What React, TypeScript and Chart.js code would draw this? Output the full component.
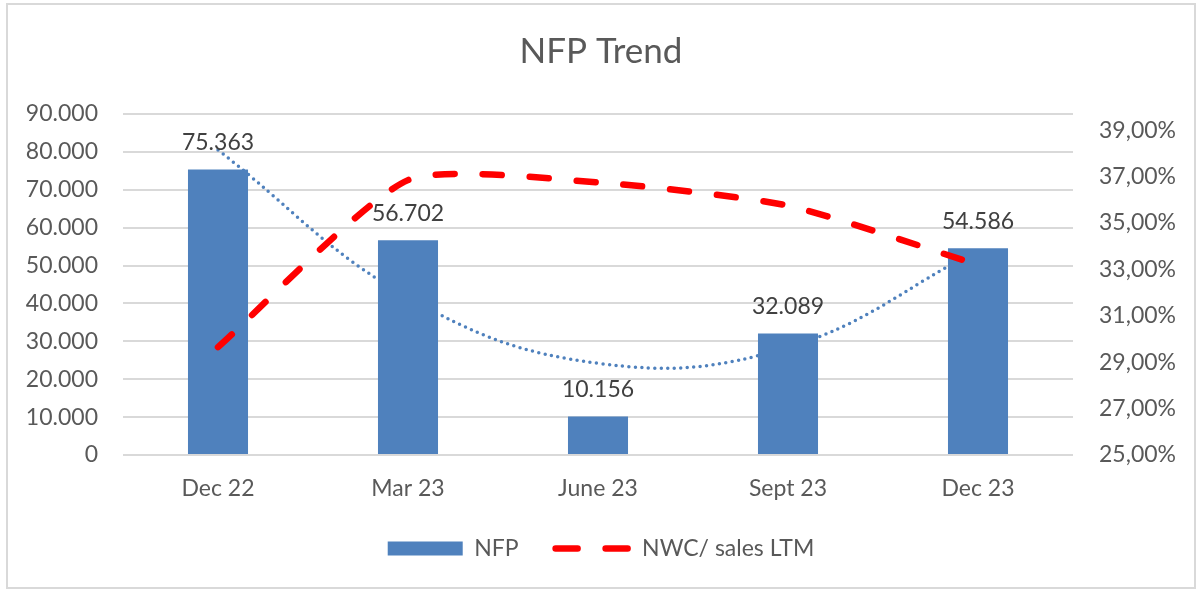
import React, { useEffect, useRef } from 'react';
import { Chart, registerables } from 'chart.js';

Chart.register(...registerables);

// ---- data ----
const categories = ['Dec 22', 'Mar 23', 'June 23', 'Sept 23', 'Dec 23'];
const nfpValues = [75363, 56702, 10156, 32089, 54586];
const nwcSalesPct = [29.65, 36.85, 36.75, 35.75, 33.2];
const nfpTrendValues = [80500, 41600, 24200, 28400, 54100];
const leftTickValues = [0, 10000, 20000, 30000, 40000, 50000, 60000, 70000, 80000, 90000];
const rightTickValues = [25, 27, 29, 31, 33, 35, 37, 39];

const TEXT = '#595959';
const BLUE = '#4F81BD';
const RED = '#FF0000';
const FONT = 'Lato';

const fmtThousands = (n: number) =>
  Math.round(n).toString().replace(/\B(?=(\d{3})+(?!\d))/g, '.');
const fmtPct = (n: number) => n.toFixed(2).replace('.', ',') + '%';

const framePlugin = {
  id: 'frame',
  beforeDraw(chart: any) {
    const { ctx, width, height } = chart;
    ctx.save();
    ctx.fillStyle = '#ffffff';
    ctx.fillRect(0, 0, width, height);
    ctx.strokeStyle = '#d9d9d9';
    ctx.lineWidth = 2;
    ctx.strokeRect(7, 4, 1188, 584);
    ctx.restore();
  },
};

const barLabelPlugin = {
  id: 'barLabels',
  afterDatasetsDraw(chart: any) {
    const { ctx } = chart;
    const meta = chart.getDatasetMeta(0);
    ctx.save();
    ctx.font = `23px ${FONT}`;
    ctx.fillStyle = '#404040';
    ctx.textAlign = 'center';
    ctx.textBaseline = 'middle';
    meta.data.forEach((el: any, i: number) => {
      ctx.fillText(fmtThousands(nfpValues[i]), el.x, el.y - 27);
    });
    ctx.restore();
  },
};

export default function App() {
  const ref = useRef<HTMLCanvasElement>(null);

  useEffect(() => {
    if (!ref.current) return;
    const chart = new Chart(ref.current, {
      type: 'bar',
      data: {
        labels: categories,
        datasets: [
          {
            type: 'bar',
            label: 'NFP',
            data: nfpValues,
            backgroundColor: BLUE,
            borderWidth: 0,
            barPercentage: 0.316,
            categoryPercentage: 1,
            yAxisID: 'y',
            order: 1,
          },
          {
            type: 'line',
            label: 'NWC/ sales LTM',
            data: nwcSalesPct,
            borderColor: RED,
            backgroundColor: RED,
            borderWidth: 6.5,
            borderDash: [19, 28],
            borderCapStyle: 'round',
            pointRadius: 0,
            tension: 0.2,
            fill: false,
            yAxisID: 'y1',
            order: 0,
          },
          {
            type: 'line',
            label: 'Trend',
            data: nfpTrendValues,
            borderColor: BLUE,
            borderWidth: 3.5,
            borderDash: [0, 6.5],
            borderCapStyle: 'round',
            pointRadius: 0,
            tension: 0.4,
            fill: false,
            yAxisID: 'y',
            order: 2,
          },
        ] as any,
      },
      options: {
        responsive: false,
        animation: false,
        layout: { padding: { left: 0, right: 0, top: 0, bottom: 19 } },
        plugins: {
          title: {
            display: true,
            text: 'NFP Trend',
            color: TEXT,
            font: { family: FONT, size: 35, weight: 'normal' },
            padding: { top: 31, bottom: 41 },
          },
          legend: {
            position: 'bottom',
            onClick: () => {},
            labels: {
              usePointStyle: true,
              pointStyleWidth: 75,
              boxHeight: 14,
              padding: 37,
              color: TEXT,
              font: { family: FONT, size: 23 },
              generateLabels: () => [
                {
                  text: 'NFP',
                  fillStyle: BLUE,
                  strokeStyle: BLUE,
                  lineWidth: 0,
                  pointStyle: 'rect',
                  hidden: false,
                  datasetIndex: 0,
                  fontColor: TEXT,
                },
                {
                  text: 'NWC/ sales LTM',
                  fillStyle: 'rgba(0,0,0,0)',
                  strokeStyle: RED,
                  lineWidth: 6.5,
                  lineDash: [22, 28],
                  lineCap: 'round',
                  pointStyle: 'line',
                  hidden: false,
                  datasetIndex: 1,
                  fontColor: TEXT,
                },
              ] as any,
            },
          },
          tooltip: { enabled: false },
        },
        scales: {
          x: {
            grid: { display: false, drawTicks: false },
            border: { display: false },
            ticks: { color: TEXT, font: { family: FONT, size: 23 }, padding: 20 },
            afterFit: (s: any) => {
              s.height = 45;
            },
          },
          y: {
            position: 'left',
            min: 0,
            max: 90000,
            grid: { color: '#d9d9d9', lineWidth: 2, drawTicks: false },
            border: { display: false },
            ticks: {
              color: TEXT,
              font: { family: FONT, size: 23 },
              padding: 25,
              callback: (v: any) => fmtThousands(Number(v)),
            },
            afterBuildTicks: (s: any) => {
              s.ticks = leftTickValues.map((v) => ({ value: v }));
            },
            afterFit: (s: any) => {
              s.width = 123;
            },
          },
          y1: {
            position: 'right',
            min: 25,
            max: 39.7,
            grid: { display: false, drawTicks: false },
            border: { display: false },
            ticks: {
              color: TEXT,
              font: { family: FONT, size: 23 },
              padding: 26,
              callback: (v: any) => fmtPct(Number(v)),
            },
            afterBuildTicks: (s: any) => {
              s.ticks = rightTickValues.map((v) => ({ value: v }));
            },
            afterFit: (s: any) => {
              s.width = 129;
            },
          },
        },
      } as any,
      plugins: [framePlugin, barLabelPlugin],
    });
    return () => chart.destroy();
  }, []);

  return (
    <div style={{ position: 'absolute', left: 0, top: 0, width: 1202, height: 589 }}>
      <canvas ref={ref} width={1202} height={589} style={{ display: 'block' }} />
    </div>
  );
}
